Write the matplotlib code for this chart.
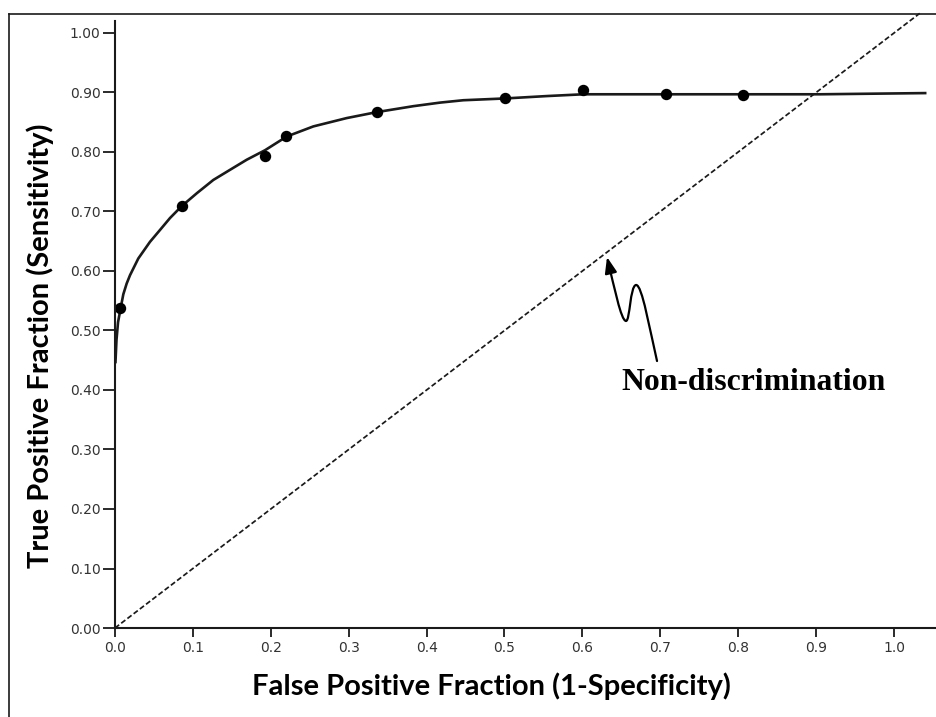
import matplotlib
matplotlib.use("Agg")
import matplotlib.pyplot as plt
from matplotlib.lines import Line2D
from matplotlib.patches import FancyArrowPatch
from matplotlib.path import Path

# observed operating points
fpf = [0.007, 0.086, 0.193, 0.220, 0.336, 0.501, 0.601, 0.707, 0.806]
tpf = [0.537, 0.709, 0.793, 0.827, 0.867, 0.890, 0.905, 0.897, 0.896]

# fitted ROC curve
curve_x = [0.0006, 0.0019, 0.0039, 0.0073, 0.0107, 0.0150, 0.0193, 0.0299,
           0.0449, 0.0578, 0.0706, 0.0856, 0.1053, 0.1262, 0.1476, 0.1691,
           0.1926, 0.2204, 0.2546, 0.2974, 0.3359, 0.3829, 0.4172, 0.4471,
           0.5006, 0.5542, 0.6012, 0.7069, 0.905, 1.040]
curve_y = [0.447, 0.484, 0.514, 0.538, 0.561, 0.579, 0.593, 0.621,
           0.649, 0.669, 0.689, 0.709, 0.731, 0.753, 0.770, 0.787,
           0.803, 0.826, 0.843, 0.857, 0.867, 0.877, 0.883, 0.887,
           0.890, 0.894, 0.897, 0.897, 0.897, 0.899]

xticks = [0.0, 0.1, 0.2, 0.3, 0.4, 0.5, 0.6, 0.7, 0.8, 0.9, 1.0]
yticks = [0.0, 0.1, 0.2, 0.3, 0.4, 0.5, 0.6, 0.7, 0.8, 0.9, 1.0]

W, H = 937, 717
fig = plt.figure(figsize=(W / 100, H / 100), dpi=100)
ax = fig.add_axes([115 / W, 1 - 628 / H, 1 - 115 / W, (628 - 21) / H])

ink = "#1a1a1a"

# chance line
ax.plot([0, 1.033], [0, 1.033], color=ink, lw=1.25, ls=(0, (3.0, 1.5)), clip_on=False)
ax.plot(curve_x, curve_y, color=ink, lw=1.9, solid_joinstyle="round")
ax.plot(fpf, tpf, "o", color="black", ms=7.2)

ax.set_xlim(0, (W - 115) / 779)
ax.set_ylim(0, (628 - 21) / 595)

ax.set_xticks(xticks)
ax.set_xticklabels([f"{v:.1f}" for v in xticks])
ax.set_yticks(yticks)
ax.set_yticklabels([f"{v:.2f}" for v in yticks])

for s in ["top", "right"]:
    ax.spines[s].set_visible(False)
for s in ["left", "bottom"]:
    ax.spines[s].set_linewidth(1.5)
    ax.spines[s].set_color(ink)

ax.tick_params(axis="y", direction="out", length=8.5, width=1.3, pad=2,
               labelsize=10, colors=ink, labelcolor="#333333")
ax.tick_params(axis="x", direction="out", length=6.5, width=1.3, pad=3,
               labelsize=10, colors=ink, labelcolor="#333333")

lab_font = dict(family=["Lato", "DejaVu Sans"], weight="bold", size=21, color="black")
fig.text(491 / W, 1 - 695 / H, "False Positive Fraction (1-Specificity)",
         ha="center", va="baseline", **lab_font)
fig.text(40 / W, 1 - 346 / H, "True Positive Fraction (Sensitivity)",
         ha="center", va="center", rotation=90, **lab_font)

ax.text(0.819, 0.400, "Non-discrimination", ha="center", va="baseline",
        family=["Liberation Serif", "DejaVu Serif"], weight="bold", size=22.8, color="black")

# squiggly pointer to the diagonal
verts = [(0.6958, 0.4487), (0.6868, 0.4992), (0.6765, 0.5782), (0.6688, 0.5765),
         (0.6611, 0.5748), (0.6611, 0.5160), (0.6560, 0.5160),
         (0.6496, 0.5160), (0.6406, 0.5748), (0.6316, 0.6235)]
codes = [Path.MOVETO] + [Path.CURVE4] * 9
arrow = FancyArrowPatch(path=Path(verts, codes), arrowstyle="-|>,head_length=0.8,head_width=0.3",
                        mutation_scale=12, color="black", lw=1.6, transform=ax.transData)
ax.add_patch(arrow)

# outer frame of the figure (cut at right and bottom)
fx, fy = 9 / W, 1 - 14 / H
fig.add_artist(Line2D([fx, fx], [0, fy], transform=fig.transFigure, color=ink, lw=1.2))
fig.add_artist(Line2D([fx, 1], [fy, fy], transform=fig.transFigure, color=ink, lw=1.2))

fig.savefig("out.png", dpi=100)
